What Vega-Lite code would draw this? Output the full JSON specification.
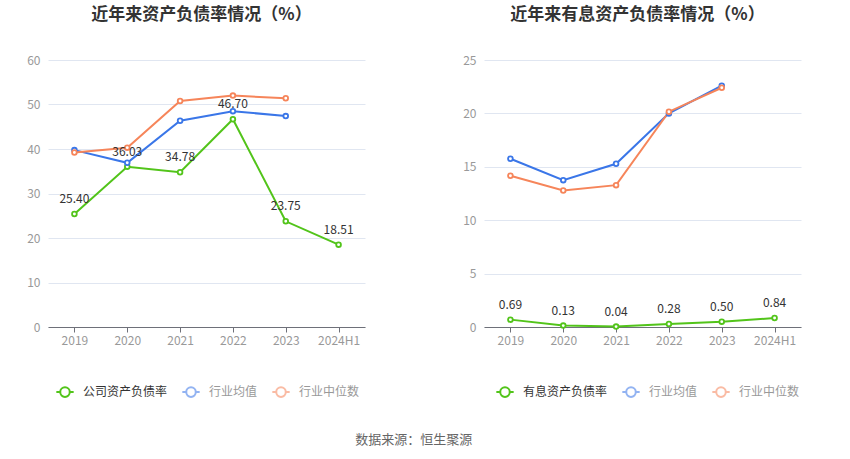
{
  "$schema": "https://vega.github.io/schema/vega-lite/v6.json",
  "background": "white",
  "padding": {"left": 26, "top": 6, "right": 10, "bottom": 5},
  "config": {
    "font": "Noto Sans CJK SC",
    "view": {"stroke": null},
    "title": {"font": "Noto Sans CJK SC"},
    "axis": {"labelFont": "Noto Sans CJK SC", "labelFontSize": 12, "labelColor": "#999999", "titleFont": "Noto Sans CJK SC"},
    "legend": {"labelFont": "Noto Sans CJK SC"}
  },
  "datasets": {
    "left": [
      {"year": "2019", "series": "公司资产负债率", "value": 25.40},
      {"year": "2020", "series": "公司资产负债率", "value": 36.03},
      {"year": "2021", "series": "公司资产负债率", "value": 34.78},
      {"year": "2022", "series": "公司资产负债率", "value": 46.70},
      {"year": "2023", "series": "公司资产负债率", "value": 23.75},
      {"year": "2024H1", "series": "公司资产负债率", "value": 18.51},
      {"year": "2019", "series": "行业均值", "value": 39.75},
      {"year": "2020", "series": "行业均值", "value": 36.9},
      {"year": "2021", "series": "行业均值", "value": 46.35},
      {"year": "2022", "series": "行业均值", "value": 48.5},
      {"year": "2023", "series": "行业均值", "value": 47.4},
      {"year": "2019", "series": "行业中位数", "value": 39.2},
      {"year": "2020", "series": "行业中位数", "value": 40.3},
      {"year": "2021", "series": "行业中位数", "value": 50.8},
      {"year": "2022", "series": "行业中位数", "value": 52.0},
      {"year": "2023", "series": "行业中位数", "value": 51.4}
    ],
    "right": [
      {"year": "2019", "series": "有息资产负债率", "value": 0.69},
      {"year": "2020", "series": "有息资产负债率", "value": 0.13},
      {"year": "2021", "series": "有息资产负债率", "value": 0.04},
      {"year": "2022", "series": "有息资产负债率", "value": 0.28},
      {"year": "2023", "series": "有息资产负债率", "value": 0.50},
      {"year": "2024H1", "series": "有息资产负债率", "value": 0.84},
      {"year": "2019", "series": "行业均值", "value": 15.75},
      {"year": "2020", "series": "行业均值", "value": 13.75},
      {"year": "2021", "series": "行业均值", "value": 15.28},
      {"year": "2022", "series": "行业均值", "value": 20.0},
      {"year": "2023", "series": "行业均值", "value": 22.6},
      {"year": "2019", "series": "行业中位数", "value": 14.16},
      {"year": "2020", "series": "行业中位数", "value": 12.78},
      {"year": "2021", "series": "行业中位数", "value": 13.28},
      {"year": "2022", "series": "行业中位数", "value": 20.16},
      {"year": "2023", "series": "行业中位数", "value": 22.4}
    ]
  },
  "title": {
    "text": "数据来源：恒生聚源",
    "orient": "bottom",
    "anchor": "middle",
    "fontSize": 13,
    "fontWeight": "normal",
    "color": "#666666",
    "offset": 33
  },
  "spacing": 97,
  "resolve": {"scale": {"color": "independent", "y": "independent"}},
  "hconcat": [
    {
      "width": 317,
      "height": 267,
      "title": {"text": "近年来资产负债率情况（%）", "fontSize": 17, "fontWeight": "bold", "color": "#333333", "anchor": "middle", "offset": 30, "dx": -5},
      "data": {"name": "left"},
      "encoding": {
        "x": {"field": "year", "type": "ordinal", "scale": {"type": "point", "padding": 0.5},
          "axis": {"title": null, "labelAngle": 0, "domainColor": "#6E7079", "tickColor": "#6E7079", "tickSize": 5, "labelPadding": 3, "grid": false}},
        "y": {"field": "value", "type": "quantitative", "scale": {"domain": [0, 60]},
          "axis": {"title": null, "values": [0, 10, 20, 30, 40, 50, 60], "domain": false, "ticks": false, "labelPadding": 8, "gridColor": "#E0E6F1", "grid": true}},
        "color": {"field": "series", "type": "nominal",
          "scale": {"domain": ["公司资产负债率", "行业均值", "行业中位数"], "range": ["#52C41A", "#3A76E8", "#F6855A"]},
          "legend": {
            "title": null, "orient": "none", "legendX": 7, "legendY": 322, "direction": "horizontal",
            "symbolType": "M -1 0 L -0.55 0 M 0.55 0 L 1 0 M 0.55 0 A 0.55 0.55 0 1 1 -0.55 0 A 0.55 0.55 0 1 1 0.55 0",
            "symbolSize": 300, "symbolStrokeWidth": 2, "symbolFillColor": "white",
            "labelFontSize": 12, "labelColor": "#333333", "labelOffset": 8, "columnPadding": 10,
            "encode": {
              "labels": {"update": {"fill": {"signal": "datum.value === '公司资产负债率' ? '#333333' : '#999999'"}}},
              "symbols": {"update": {"opacity": {"signal": "datum.value === '公司资产负债率' ? 1 : 0.55"}, "fill": {"value": "white"}}}
            }
          }
        }
      },
      "layer": [
        {"mark": {"type": "line", "strokeWidth": 2}},
        {"mark": {"type": "point", "filled": false, "fill": "white", "fillOpacity": 1, "opacity": 1, "size": 22, "strokeWidth": 1.8}},
        {
          "transform": [{"filter": "datum.series === '公司资产负债率'"}],
          "mark": {"type": "text", "dy": -15, "fontSize": 12, "color": "#333333"},
          "encoding": {"text": {"field": "value", "type": "quantitative", "format": ".2f"}, "color": {"value": "#333333"}}
        }
      ]
    },
    {
      "width": 317,
      "height": 267,
      "title": {"text": "近年来有息资产负债率情况（%）", "fontSize": 17, "fontWeight": "bold", "color": "#333333", "anchor": "middle", "offset": 30, "dx": -5},
      "data": {"name": "right"},
      "encoding": {
        "x": {"field": "year", "type": "ordinal", "scale": {"type": "point", "padding": 0.5},
          "axis": {"title": null, "labelAngle": 0, "domainColor": "#6E7079", "tickColor": "#6E7079", "tickSize": 5, "labelPadding": 3, "grid": false}},
        "y": {"field": "value", "type": "quantitative", "scale": {"domain": [0, 25]},
          "axis": {"title": null, "values": [0, 5, 10, 15, 20, 25], "domain": false, "ticks": false, "labelPadding": 8, "gridColor": "#E0E6F1", "grid": true}},
        "color": {"field": "series", "type": "nominal",
          "scale": {"domain": ["有息资产负债率", "行业均值", "行业中位数"], "range": ["#52C41A", "#3A76E8", "#F6855A"]},
          "legend": {
            "title": null, "orient": "none", "legendX": 11, "legendY": 322, "direction": "horizontal",
            "symbolType": "M -1 0 L -0.55 0 M 0.55 0 L 1 0 M 0.55 0 A 0.55 0.55 0 1 1 -0.55 0 A 0.55 0.55 0 1 1 0.55 0",
            "symbolSize": 300, "symbolStrokeWidth": 2, "symbolFillColor": "white",
            "labelFontSize": 12, "labelColor": "#333333", "labelOffset": 8, "columnPadding": 10,
            "encode": {
              "labels": {"update": {"fill": {"signal": "datum.value === '有息资产负债率' ? '#333333' : '#999999'"}}},
              "symbols": {"update": {"opacity": {"signal": "datum.value === '有息资产负债率' ? 1 : 0.55"}, "fill": {"value": "white"}}}
            }
          }
        }
      },
      "layer": [
        {"mark": {"type": "line", "strokeWidth": 2}},
        {"mark": {"type": "point", "filled": false, "fill": "white", "fillOpacity": 1, "opacity": 1, "size": 22, "strokeWidth": 1.8}},
        {
          "transform": [{"filter": "datum.series === '有息资产负债率'"}],
          "mark": {"type": "text", "dy": -15, "fontSize": 12, "color": "#333333"},
          "encoding": {"text": {"field": "value", "type": "quantitative", "format": ".2f"}, "color": {"value": "#333333"}}
        }
      ]
    }
  ]
}
